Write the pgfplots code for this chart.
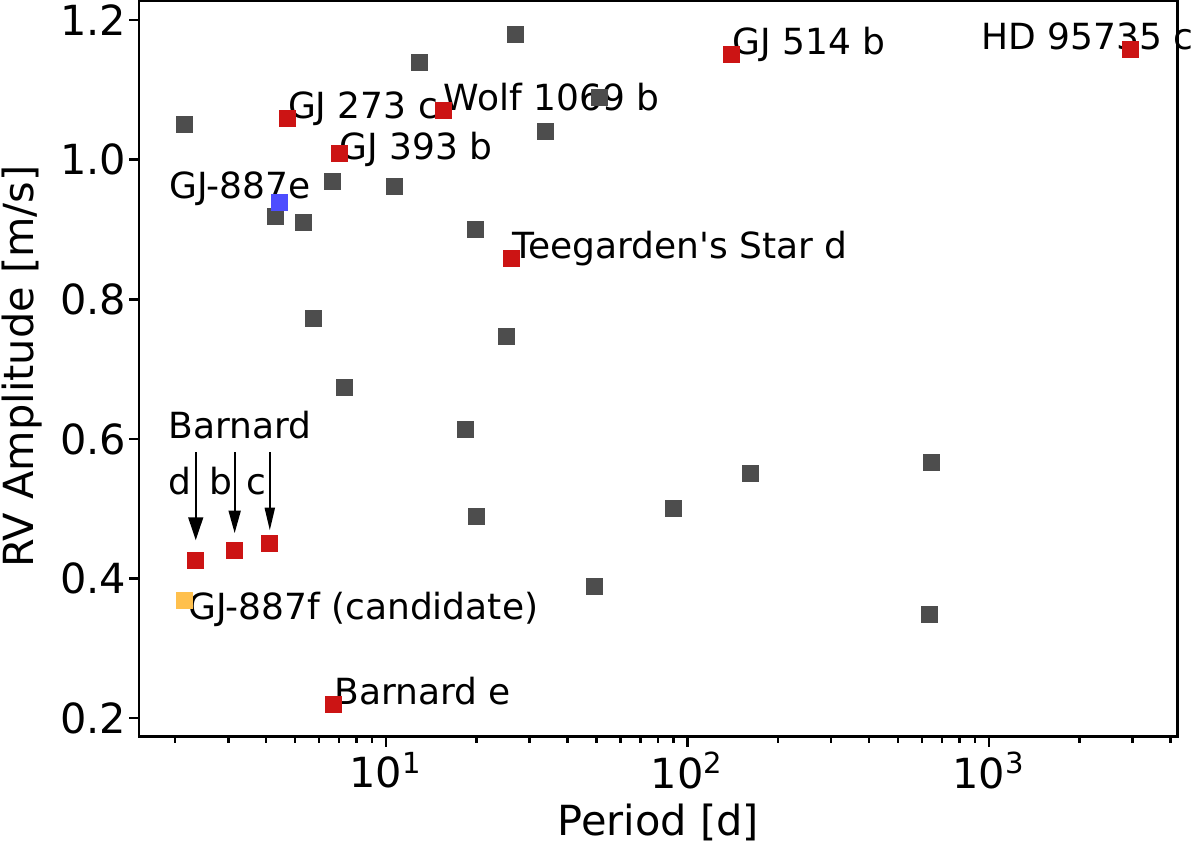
\documentclass[border=0pt]{standalone}
\usepackage{fontspec}
\setmainfont{DejaVu Sans}
\usepackage{pgfplots}
\pgfplotsset{compat=1.18}
\usetikzlibrary{arrows.meta}

\definecolor{ptgray}{HTML}{4D4D4D}
\definecolor{ptred}{HTML}{CC1414}
\definecolor{ptblue}{HTML}{4D4DFF}
\definecolor{ptorange}{HTML}{FFC04D}

% square marker with rounded corners
\pgfdeclareplotmark{rsquare}{%
  \pgfsetcornersarced{\pgfpoint{0.9pt}{0.9pt}}%
  \pgfpathmoveto{\pgfqpoint{-\pgfplotmarksize}{-\pgfplotmarksize}}%
  \pgfpathlineto{\pgfqpoint{\pgfplotmarksize}{-\pgfplotmarksize}}%
  \pgfpathlineto{\pgfqpoint{\pgfplotmarksize}{\pgfplotmarksize}}%
  \pgfpathlineto{\pgfqpoint{-\pgfplotmarksize}{\pgfplotmarksize}}%
  \pgfpathclose
  \pgfusepathqfillstroke
}

% Period [d]   RV semi-amplitude [m/s]
\pgfplotstableread{
P      K
2.15   1.051
4.31   0.919
5.31   0.910
6.67   0.969
10.7   0.962
12.9   1.139
26.9   1.179
51.3   1.089
33.9   1.040
19.9   0.900
5.74   0.772
7.28   0.674
25.1   0.746
18.3   0.614
20.0   0.489
49.3   0.389
89.6   0.501
162.5  0.550
647    0.566
635    0.349
}\others

\pgfplotstableread{
P      K
4.71   1.059
7.0    1.009
15.5   1.070
140.2  1.150
2951   1.158
26.1   0.859
2.34   0.426
3.15   0.440
4.12   0.450
6.72   0.219
}\highlighted

\pgfplotstableread{
P      K
4.42   0.939
}\gje

\pgfplotstableread{
P      K
2.15   0.368
}\gjf

\newcommand{\ticksize}{\fontsize{12.45}{15}\selectfont}
\newcommand{\annsize}{\fontsize{10.8}{13}\selectfont}

\pgfplotsset{
  planet/.style={only marks, mark=rsquare, mark size=2.4pt,
    mark options={fill=#1, draw=#1, line width=0.3pt}},
}

\begin{document}
\begin{tikzpicture}
\begin{axis}[
  scale only axis,
  width=311.6pt, height=220.7pt,
  xmode=log,
  xmin=1.517, xmax=4230,
  ymin=0.1736, ymax=1.2272,
  clip=false,
  axis line style={line width=0.75pt},
  every tick/.style={line width=0.75pt, black},
  tick align=outside,
  xtick pos=bottom, ytick pos=left,
  major tick length=3pt,
  minor tick length=1.8pt,
  xtick={10,100,1000},
  xticklabels={10\textsuperscript{1},10\textsuperscript{2},10\textsuperscript{3}},
  minor xtick={2,3,4,5,6,7,8,9,20,30,40,50,60,70,80,90,200,300,400,500,600,700,800,900,2000,3000,4000},
  ytick={0.2,0.4,0.6,0.8,1.0,1.2},
  yticklabels={0.2,0.4,0.6,0.8,1.0,1.2},
  ticklabel style={font=\ticksize},
  xticklabel style={anchor=north, inner sep=0pt, yshift=-1.4pt},
  yticklabel style={anchor=east, inner sep=0pt, xshift=-0.6pt},
  xlabel={Period [d]},
  ylabel={RV Amplitude [m/s]},
  every axis x label/.style={at={(axis description cs:0.5,-0.135)}, anchor=base, font=\ticksize},
  every axis y label/.style={at={(axis description cs:-0.1126,0.503)}, rotate=90, anchor=center, font=\ticksize},
]
\coordinate (SW) at (rel axis cs:0,0);
\coordinate (NE) at (rel axis cs:1,1);

\addplot[planet=ptgray] table[x=P, y=K] {\others};
\addplot[planet=ptred] table[x=P, y=K] {\highlighted};
\addplot[planet=ptblue] table[x=P, y=K] {\gje};
\addplot[planet=ptorange] table[x=P, y=K] {\gjf};

% planet names
\begin{scope}[every node/.style={anchor=base west, inner sep=0pt, font=\annsize}]
\node at (axis cs:4.71,1.059) {GJ 273 c};
\node at (axis cs:7.0,1.0) {GJ 393 b};
\node at (axis cs:15.5,1.070) {Wolf 1069 b};
\node at (axis cs:140.2,1.150) {GJ 514 b};
\node at (axis cs:940,1.158) {HD 95735 c};
\node at (axis cs:26.1,0.859) {Teegarden\textquotesingle s Star d};
\node at (axis cs:6.72,0.219) {Barnard e};
\node at (axis cs:1.9,0.945) {GJ-887e};
\node at (axis cs:2.2,0.341) {GJ-887f (candidate)};
\node at (axis cs:1.89,0.6) {Barnard};
\node at (axis cs:1.89,0.52) {d};
\node at (axis cs:2.59,0.52) {b};
\node at (axis cs:3.42,0.52) {c};
\end{scope}

% arrows pointing to the Barnard planets
\draw[line width=0.6pt, -{Triangle[length=6.8pt, width=4.4pt]}] (axis cs:2.34,0.581) -- (axis cs:2.34,0.455);
\draw[line width=0.6pt, -{Triangle[length=6.8pt, width=3.6pt]}] (axis cs:3.15,0.581) -- (axis cs:3.15,0.465);
\draw[line width=0.6pt, -{Triangle[length=6.8pt, width=3.0pt]}] (axis cs:4.12,0.581) -- (axis cs:4.12,0.469);
\end{axis}
\pgfresetboundingbox
\path[use as bounding box] ([shift={(-41.7pt,-32.2pt)}]SW) rectangle ([shift={(6.7pt,0.3pt)}]NE);
\end{tikzpicture}
\end{document}
